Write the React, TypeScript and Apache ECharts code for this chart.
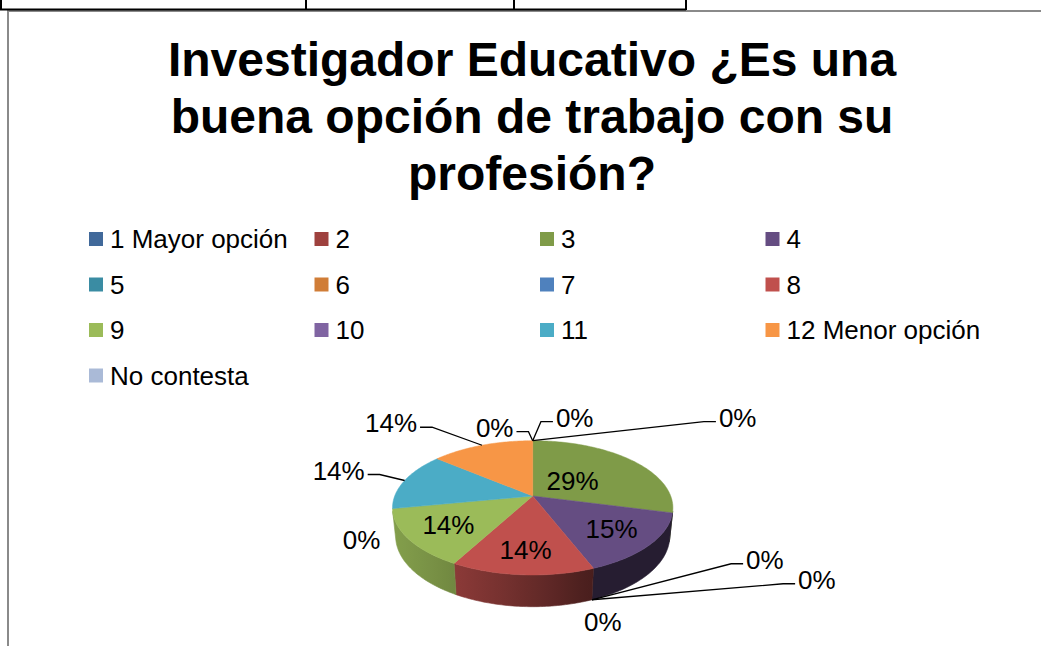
import React, { useEffect, useRef } from 'react';
import * as echarts from 'echarts';

// ---------- data ----------
const categories = [
  '1 Mayor opción', '2', '3', '4', '5', '6', '7', '8', '9', '10', '11', '12 Menor opción', 'No contesta',
];
const values = [0, 0, 29, 15, 0, 0, 0, 14, 14, 0, 14, 14, 0];
const colors = [
  '#41699A', '#9E413E', '#7F9B48', '#654D82', '#3A8CA3', '#D07D37',
  '#4F81BD', '#C0504D', '#9BBB59', '#8064A2', '#4BACC6', '#F79646', '#AABAD7',
];
const titleText = 'Investigador Educativo ¿Es una\nbuena opción de trabajo con su\nprofesión?';

// ---------- layout (not data) ----------
const FONT = '"Liberation Sans", Arial, Helvetica, sans-serif';
const PIE = { cx: 532.7, cy: 496, F: 690, D: 5.0, sinA: 0.4714, h: 0.2347 };
const COSA = Math.sqrt(1 - PIE.sinA * PIE.sinA);
const VIS = Math.acos(-1 / (PIE.D * COSA));
const LIGHT = (250 * Math.PI) / 180;

// label placement per category: inside at radius r, or offset from rim / base anchor
const labelPlacement: any[] = [
  { kind: 'rim', dx: 42, dy: -23, leader: true },
  { kind: 'rim', dx: 205, dy: -23, leader: true },
  { kind: 'in', r: 0.38 },
  { kind: 'in', r: 0.7 },
  { kind: 'base', dx: 173, dy: -40, leader: true },
  { kind: 'base', dx: 225, dy: -20, leader: true },
  { kind: 'base', dx: 11, dy: 22, leader: false },
  { kind: 'in', r: 0.72 },
  { kind: 'in', r: 0.7 },
  { kind: 'rim', dx: -31, dy: 31, leader: false },
  { kind: 'rim', dx: -66, dy: -10, leader: true },
  { kind: 'rim', dx: -91, dy: -22, leader: true },
  { kind: 'rim', dx: -38, dy: -13, leader: true },
];

function proj(t: number, r: number, y: number): number[] {
  const X = r * Math.sin(t);
  const Z = -r * Math.cos(t);
  const up = y * COSA - Z * PIE.sinA;
  const tow = y * PIE.sinA + Z * COSA;
  const depth = PIE.D - tow;
  return [PIE.cx + (PIE.F * X) / depth, PIE.cy - (PIE.F * up) / depth];
}

function shade(hex: string, f: number): string {
  const n = parseInt(hex.slice(1), 16);
  const r = Math.round(((n >> 16) & 255) * f);
  const g = Math.round(((n >> 8) & 255) * f);
  const b = Math.round((n & 255) * f);
  return `rgb(${r},${g},${b})`;
}

function light(t: number): number {
  return 0.38 + 0.46 * Math.max(0, Math.cos(t - LIGHT));
}

function renderSlice(i: number, v: number) {
  const total = values.reduce((a, b) => a + b, 0);
  const before = values.slice(0, i).reduce((a, b) => a + b, 0);
  const t0 = (before / total) * Math.PI * 2;
  const t1 = ((before + v) / total) * Math.PI * 2;
  const base = colors[i];
  const children: any[] = [];
  const step = Math.PI / 180;

  if (v > 0) {
    // side face
    const a = Math.max(t0, VIS);
    const b = Math.min(t1, Math.PI * 2 - VIS);
    if (b > a) {
      const n = Math.max(2, Math.ceil((b - a) / step));
      const pts: number[][] = [];
      for (let k = 0; k <= n; k++) pts.push(proj(a + ((b - a) * k) / n, 1, 0));
      for (let k = n; k >= 0; k--) pts.push(proj(a + ((b - a) * k) / n, 1, -PIE.h));
      const xL = proj(b, 1, 0)[0];
      const xR = proj(a, 1, 0)[0];
      const stops: any[] = [];
      const m = 12;
      for (let k = 0; k <= m; k++) {
        const t = b - ((b - a) * k) / m;
        const x = proj(t, 1, 0)[0];
        stops.push({ offset: Math.min(1, Math.max(0, (x - xL) / (xR - xL || 1))), color: shade(base, light(t)) });
      }
      const grad = new echarts.graphic.LinearGradient(xL, 0, xR, 0, stops, true);
      children.push({
        type: 'polygon', z2: 1,
        shape: { points: pts },
        style: { fill: grad, stroke: grad, lineWidth: 0.6 },
      });
    }
    // top face
    const n2 = Math.max(2, Math.ceil((t1 - t0) / step));
    const tp: number[][] = [proj(0, 0, 0)];
    for (let k = 0; k <= n2; k++) tp.push(proj(t0 + ((t1 - t0) * k) / n2, 1, 0));
    children.push({
      type: 'polygon', z2: 10,
      shape: { points: tp },
      style: { fill: base, stroke: base, lineWidth: 0.5 },
    });
  }

  // label
  const txt = Math.round((v / total) * 100) + '%';
  const p = labelPlacement[i];
  const mid = (t0 + t1) / 2;
  let tx: number, ty: number;
  if (p.kind === 'in') {
    [tx, ty] = proj(mid, p.r, 0);
  } else {
    const anc = proj(mid, 1, p.kind === 'base' ? -PIE.h : 0);
    tx = anc[0] + p.dx;
    ty = anc[1] + p.dy;
    if (p.leader) {
      const digits = txt.length - 1;
      const w = 26 * (digits * 0.556 + 0.889);
      const ly = ty + 4;
      const len = 12;
      const pts =
        p.dx > 0
          ? [anc, [tx - w / 2 - 3 - len, ly], [tx - w / 2 - 3, ly]]
          : [anc, [tx + w / 2 + 3 + len, ly], [tx + w / 2 + 3, ly]];
      children.push({
        type: 'polyline', z2: 20,
        shape: { points: pts },
        style: { stroke: '#000', lineWidth: 1.3, fill: null },
      });
    }
  }
  children.push({
    type: 'text', z2: 30,
    style: {
      text: txt, x: tx, y: ty, fill: '#000',
      font: `26px ${FONT}`,
      align: 'center', verticalAlign: 'middle',
      textAlign: 'center', textVerticalAlign: 'middle',
    },
  });
  return { type: 'group', children };
}

export default function App() {
  const ref = useRef<HTMLDivElement>(null);
  useEffect(() => {
    if (!ref.current) return;
    const chart = echarts.init(ref.current, null, { renderer: 'svg' });
    const option: any = {
      animation: false,
      backgroundColor: '#fff',
      color: colors,
      title: {
        text: titleText,
        left: 532,
        top: 31,
        padding: 0,
        textAlign: 'center',
        textStyle: { fontFamily: FONT, fontSize: 48, fontWeight: 'bold', lineHeight: 57, color: '#000' },
      },
      legend: {
        data: categories,
        left: 89,
        top: 224,
        width: 910,
        padding: 0,
        orient: 'horizontal',
        icon: 'rect',
        itemWidth: 14,
        itemHeight: 14,
        itemGap: 15.5,
        selectedMode: false,
        textStyle: { fontFamily: FONT, fontSize: 26, color: '#000', lineHeight: 30, width: 189, padding: [0, 0, 0, 2] },
      },
      graphic: [
        { type: 'line', shape: { x1: 7, y1: 11, x2: 1041, y2: 11 }, style: { stroke: '#8a8a8a', lineWidth: 2 } },
        { type: 'line', shape: { x1: 8, y1: 10, x2: 8, y2: 646 }, style: { stroke: '#8a8a8a', lineWidth: 2 } },
        { type: 'line', shape: { x1: 0, y1: 9.5, x2: 686, y2: 9.5 }, style: { stroke: '#000', lineWidth: 2 } },
        { type: 'line', shape: { x1: 1, y1: 0, x2: 1, y2: 10 }, style: { stroke: '#000', lineWidth: 2 } },
        { type: 'line', shape: { x1: 306, y1: 0, x2: 306, y2: 10 }, style: { stroke: '#000', lineWidth: 2 } },
        { type: 'line', shape: { x1: 514, y1: 0, x2: 514, y2: 10 }, style: { stroke: '#000', lineWidth: 2 } },
        { type: 'line', shape: { x1: 686, y1: 0, x2: 686, y2: 10 }, style: { stroke: '#000', lineWidth: 2 } },
      ],
      series: categories.map((name, i) => ({
        type: 'custom',
        name,
        coordinateSystem: 'none',
        silent: true,
        itemStyle: { color: colors[i] },
        data: [values[i]],
        renderItem: (_params: any, api: any) => renderSlice(i, api.value(0)),
      })),
    };
    chart.setOption(option);
    return () => chart.dispose();
  }, []);
  return <div ref={ref} style={{ position: 'fixed', left: 0, top: 0, width: 1041, height: 646 }} />;
}
